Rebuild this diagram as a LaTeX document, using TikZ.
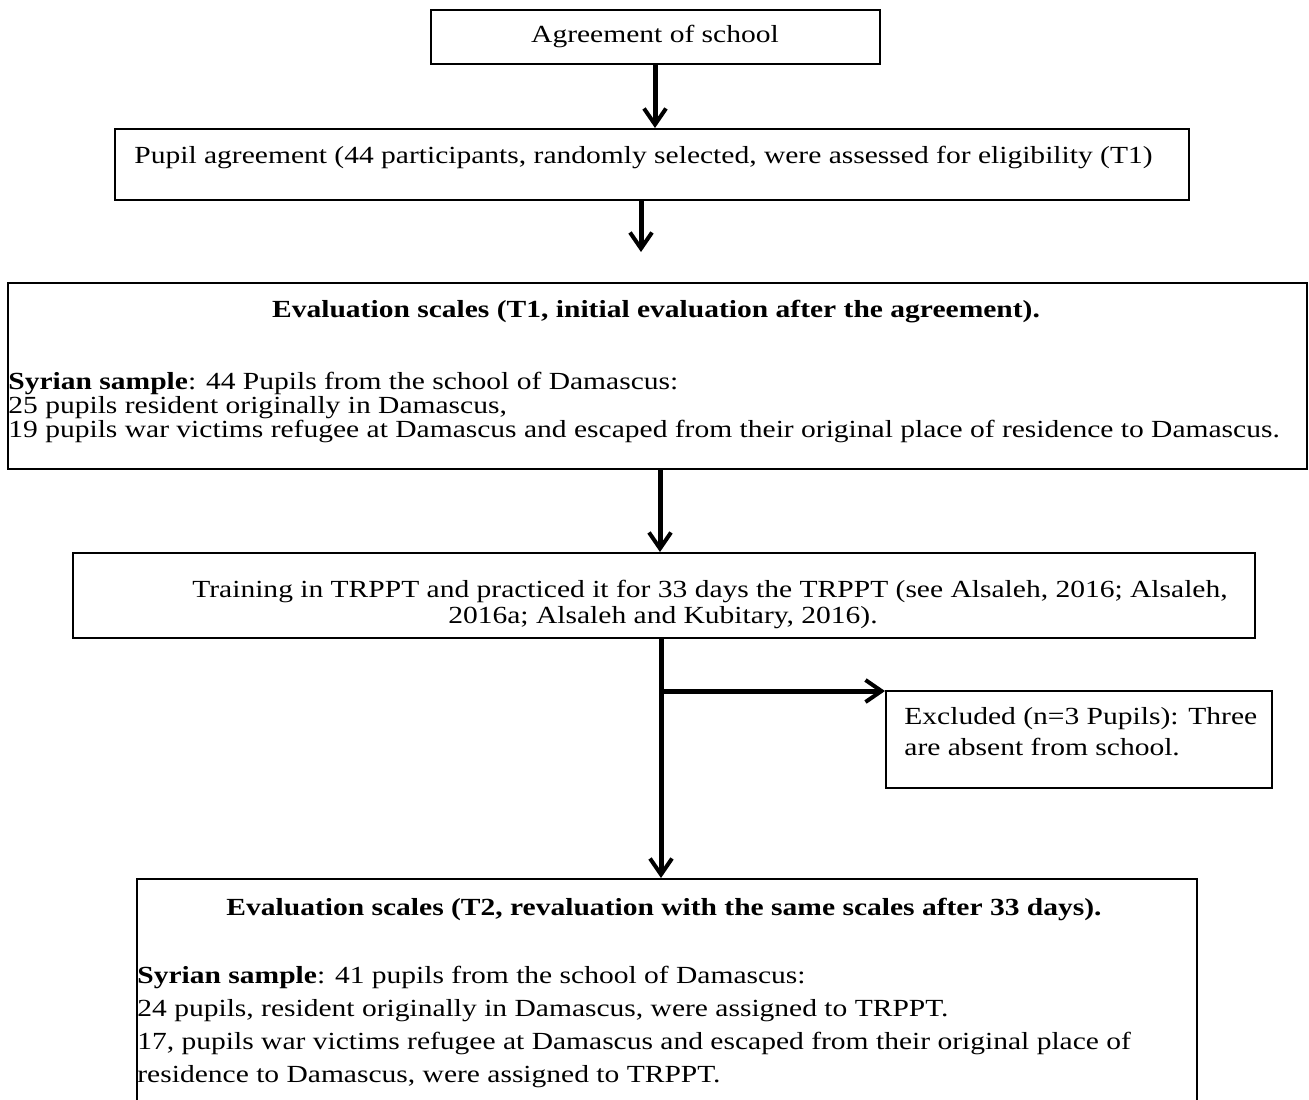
\documentclass[tikz,border=0pt]{standalone}
\usepackage{fontspec}
\setmainfont{Liberation Serif}[FakeStretch=1.2]
\usetikzlibrary{arrows.meta, positioning}
\tikzstyle{stage} = [
    draw=black,
    line width=1pt,
    inner sep=0pt,
    anchor=north west
]
\tikzstyle{flow} = [
    -{Straight Barb[length=8pt,width=11pt,line width=2pt]},
    line width=2.5pt
]
\tikzstyle{lines} = [
    anchor=north west,
    align=left,
    inner sep=0pt
]
\begin{document}
\begin{tikzpicture}[x=0.5pt, y=-0.5pt, font=\fontsize{12.3}{13}\selectfont]
\useasboundingbox (0,0) rectangle (1309,1099);
% boxes
\node [stage, minimum width=449*0.5pt, minimum height=54*0.5pt] (school) at (430,9) {};
\node (schooltxt) at (655,36) {Agreement of school};
\node [stage, minimum width=1074*0.5pt, minimum height=71*0.5pt] (pupil) at (114,128) {};
\node [anchor=west, inner sep=0pt] (pupiltxt) at (134,157) {Pupil agreement (44 participants, randomly selected, were assessed for eligibility (T1)};
\node [stage, minimum width=1299*0.5pt, minimum height=186*0.5pt] (evalone) at (7,282) {};
\node (evalonetitle) at (656,312) {\bfseries Evaluation scales (T1, initial evaluation after the agreement).};
\node [lines, font=\fontsize{12.3}{12}\selectfont] (evalonetxt) at (8,372) {%
    \textbf{Syrian sample}: 44 Pupils from the school of Damascus:\\
    25 pupils resident originally in Damascus,\\
    19 pupils war victims refugee at Damascus and escaped from their original place of residence to Damascus.};
\node [stage, minimum width=1182*0.5pt, minimum height=85*0.5pt] (training) at (72,552) {};
\node [anchor=north, align=center, inner sep=0pt, font=\fontsize{12.3}{13}\selectfont] (trainingtxt) at (663,580) {%
    \hspace*{47pt}Training in TRPPT and practiced it for 33 days the TRPPT (see Alsaleh, 2016; Alsaleh,\\
    2016a; Alsaleh and Kubitary, 2016).};
\node [stage, minimum width=386*0.5pt, minimum height=97*0.5pt] (excluded) at (885,690) {};
\node [lines, font=\fontsize{12.3}{15.5}\selectfont] (excludedtxt) at (904,707) {%
    Excluded (n=3 Pupils): Three\\
    are absent from school.};
\node [stage, minimum width=1060*0.5pt, minimum height=230*0.5pt] (evaltwo) at (136,878) {};
\node (evaltwotitle) at (664,909) {\bfseries Evaluation scales (T2, revaluation with the same scales after 33 days).};
\node [lines, font=\fontsize{12.3}{16.5}\selectfont] (evaltwotxt) at (137,966) {%
    \textbf{Syrian sample}: 41 pupils from the school of Damascus:\\
    24 pupils, resident originally in Damascus, were assigned to TRPPT.\\
    17, pupils war victims refugee at Damascus and escaped from their original place of\\
    residence to Damascus, were assigned to TRPPT.};
% arrows
\coordinate (branch) at (661,691);
\coordinate (gapend) at (641,252);
\draw [flow] (school.south -| 655,0) -- (pupil.north -| 655,0);
\draw [flow] (pupil.south -| gapend) -- (gapend);
\draw [flow] (evalone.south -| 660,0) -- (training.north -| 660,0);
\draw [flow] (training.south -| 661,0) -- (evaltwo.north -| 661,0);
\draw [flow] (branch) -- (excluded.west |- branch);
\end{tikzpicture}
\end{document}
